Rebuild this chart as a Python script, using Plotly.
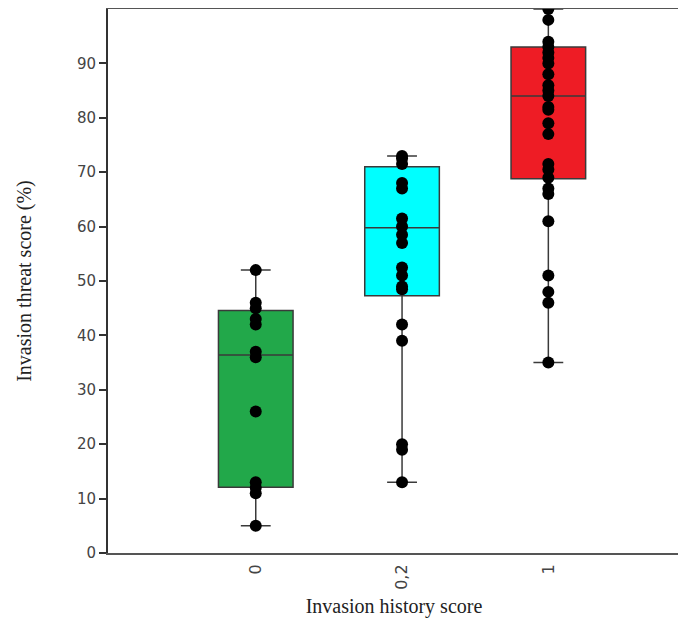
import plotly.graph_objects as go

categories = ["0", "0,2", "1"]
cat_pos = [0, 1, 2]
box_colors = ["#22a84a", "#00ffff", "#ee1c25"]

q1 = [12.1, 47.3, 68.8]
median = [36.4, 59.8, 84.0]
q3 = [44.6, 71.0, 93.0]
lower = [5.0, 13.0, 35.0]
upper = [52.0, 73.0, 100.0]

points_0 = [52, 46, 45, 43, 42, 37, 36, 26, 13, 12, 11, 5]
points_02 = [73, 72.5, 71.5, 68, 67, 61.5, 60, 58.5, 57, 52.5, 51, 49, 48.5, 42, 39, 20, 19, 13]
points_1 = [100, 98, 94, 93, 92, 91, 90, 88, 86, 85, 84, 82, 81.5, 79, 77, 71.5, 70.5, 69, 67, 66, 61, 51, 48, 46, 35]
all_points = [points_0, points_02, points_1]

fig = go.Figure()
for i in range(3):
    fig.add_trace(go.Box(
        x=[cat_pos[i]], q1=[q1[i]], median=[median[i]], q3=[q3[i]],
        lowerfence=[lower[i]], upperfence=[upper[i]],
        width=0.51, whiskerwidth=0.4,
        fillcolor=box_colors[i],
        line=dict(color="#3a3a3a", width=1.5),
        boxpoints=False, showlegend=False, hoverinfo="skip"))
for i in range(3):
    fig.add_trace(go.Scatter(
        x=[cat_pos[i]] * len(all_points[i]), y=all_points[i],
        mode="markers", marker=dict(color="black", size=12),
        showlegend=False, cliponaxis=False))

fig.update_layout(
    width=672, height=612,
    margin=dict(l=100, r=0, t=1, b=67, autoexpand=False),
    plot_bgcolor="white", paper_bgcolor="white",
    font=dict(family="DejaVu Sans", size=14, color="#333333"),
)
fig.update_xaxes(
    range=[-1.01, 2.9], tickvals=cat_pos, ticktext=categories,
    tickangle=-90, ticks="", showgrid=False, zeroline=False,
    showline=True, linecolor="#555555", linewidth=2, mirror=True,
    tickfont=dict(family="DejaVu Sans", size=16, color="#444444"),
    ticklabelstandoff=3,
    automargin=False,
    title=dict(text="Invasion history score",
               font=dict(family="Liberation Serif", size=20, color="#222222"),
               standoff=10),
)
fig.update_yaxes(
    range=[0, 100], tickvals=[0, 10, 20, 30, 40, 50, 60, 70, 80, 90],
    ticks="outside", ticklen=7, tickwidth=2, tickcolor="#333333",
    showgrid=False, zeroline=False,
    showline=True, linecolor="#333333", linewidth=2,
    tickfont=dict(family="DejaVu Sans", size=15, color="#444444"),
    automargin=False,
    title=dict(text="Invasion threat score (%)",
               font=dict(family="Liberation Serif", size=20, color="#222222"),
               standoff=40),
)
fig.write_html("out.html")
